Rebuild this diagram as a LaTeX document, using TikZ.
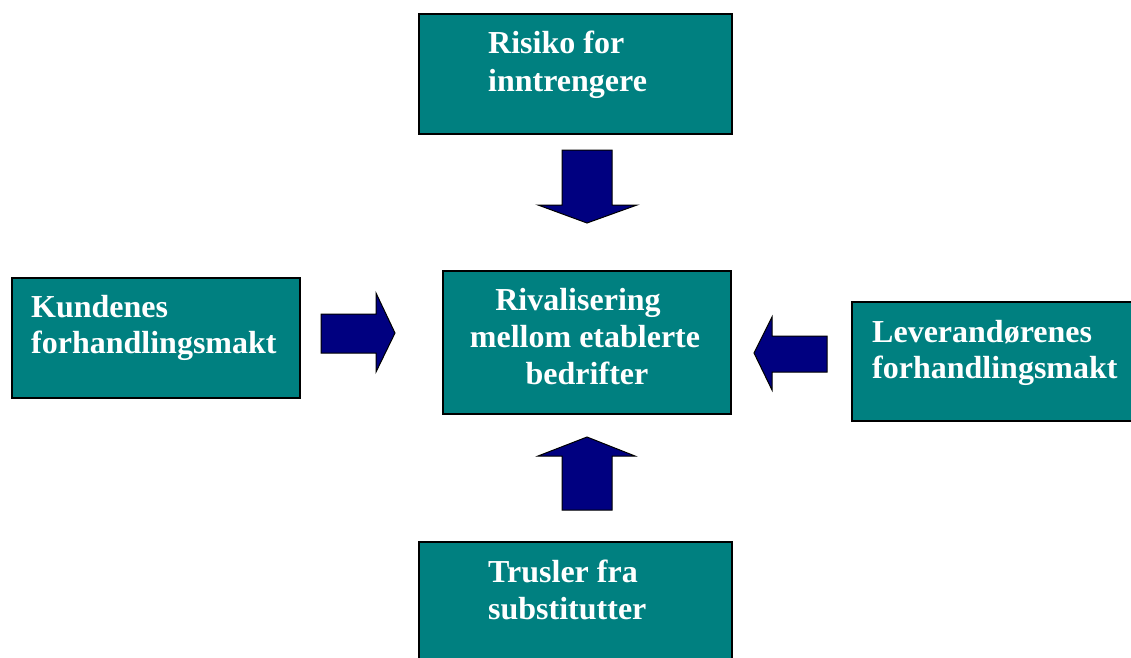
\documentclass[tikz,border=0pt]{standalone}
\usepackage{fontspec}
\setmainfont{Liberation Serif}
\definecolor{boxteal}{HTML}{008080}
\definecolor{arrownavy}{HTML}{000080}
\begin{document}
\begin{tikzpicture}[x=1pt,y=-1pt,
  box/.style={draw=black,line width=1.6pt,fill=boxteal,rectangle,inner sep=0pt,anchor=north west},
  lbl/.style={anchor=base west,inner sep=0pt,text=white,font=\bfseries\fontsize{32}{38}\selectfont},
  clbl/.style={anchor=base,inner sep=0pt,text=white,font=\bfseries\fontsize{32}{38}\selectfont},
  blk/.style={fill=arrownavy,draw=black,line width=1pt,line join=miter}]
\clip (0,0) rectangle (1131,657);
\fill[white] (0,0) rectangle (1131,657);
% boxes
\node[box,minimum width=313pt,minimum height=120pt] (top) at (418,13) {};
\node[box,minimum width=288pt,minimum height=120pt] (left) at (11,277) {};
\node[box,minimum width=288pt,minimum height=143pt] (center) at (442,270) {};
\node[box,minimum width=290pt,minimum height=119pt] (right) at (851,301) {};
\node[box,minimum width=313pt,minimum height=130pt] (bottom) at (418,541) {};
% texts
\node[lbl] (t1) at (488,53) {Risiko for};
\node[lbl] (t2) at (488,91) {inntrengere};
\node[lbl] (l1) at (31,317) {Kundenes};
\node[lbl] (l2) at (31,353) {forhandlingsmakt};
\node[clbl] (c1) at (578,310) {Rivalisering};
\node[clbl] (c2) at (585,347) {mellom etablerte};
\node[clbl] (c3) at (587,384) {bedrifter};
\node[lbl] (r1) at (872,342) {Leverandørenes};
\node[lbl] (r2) at (872,378) {forhandlingsmakt};
\node[lbl] (b1) at (488,582) {Trusler fra};
\node[lbl] (b2) at (488,619) {substitutter};
% block arrows
\draw[blk] (562,150) -- (612,150) -- (612,205) -- (637,205) -- (587,223) -- (538,205) -- (562,205) -- cycle;
\draw[blk] (562,510) -- (612,510) -- (612,456) -- (635,456) -- (587,437) -- (538,456) -- (562,456) -- cycle;
\draw[blk] (321,314) -- (376,314) -- (376,293) -- (395,333) -- (376,372) -- (376,353) -- (321,353) -- cycle;
\draw[blk] (827,336) -- (772,336) -- (772,317) -- (754,353) -- (772,390) -- (772,372) -- (827,372) -- cycle;
\end{tikzpicture}
\end{document}
